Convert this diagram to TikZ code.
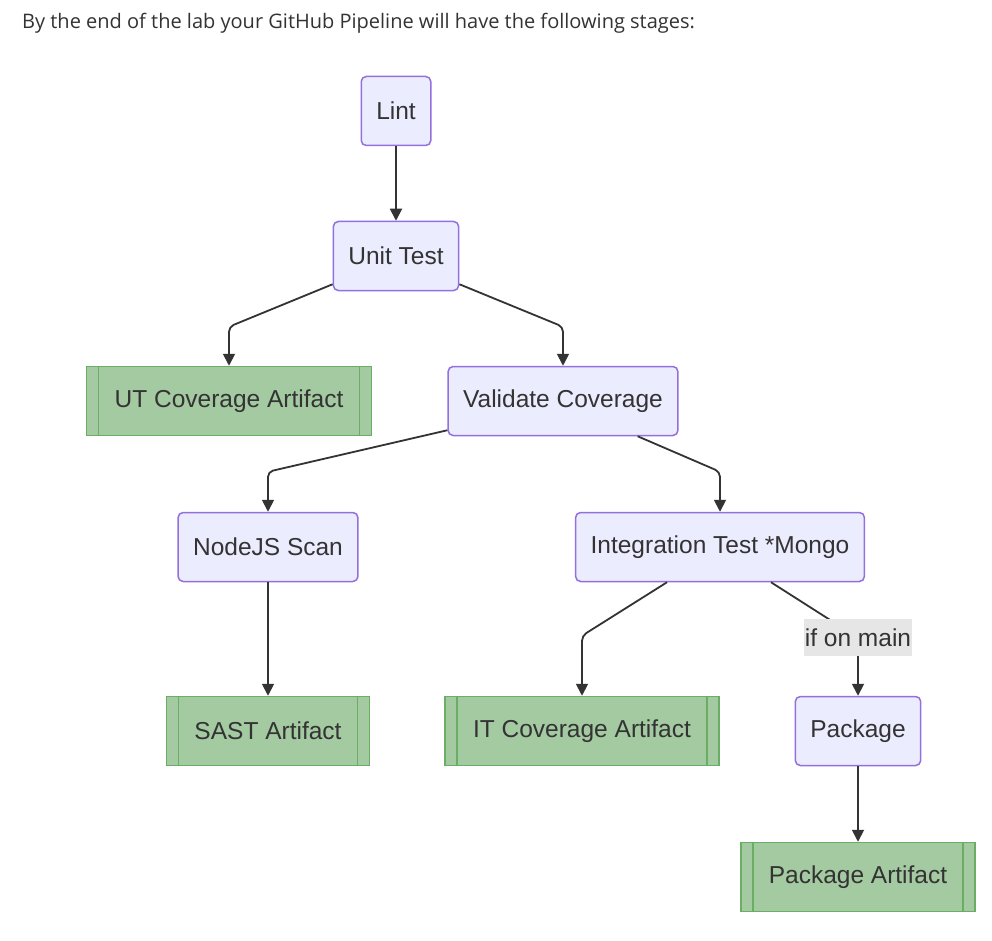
\documentclass[tikz,border=0pt]{standalone}
\usepackage{fontspec}
\setmainfont{Liberation Sans}
\newfontfamily\headfont{Open Sans}
\usetikzlibrary{arrows.meta}
\definecolor{stagefill}{HTML}{ECECFF}
\definecolor{stageline}{HTML}{9370DB}
\definecolor{artfill}{HTML}{A4CAA1}
\definecolor{artline}{HTML}{6AAE66}
\definecolor{ink}{HTML}{333333}
\definecolor{lblfill}{HTML}{E6E6E6}
\tikzset{
  stage/.style={draw=stageline, fill=stagefill, line width=1.5pt, rounded corners=5pt,
    minimum height=69pt, inner xsep=15pt, text=ink, font=\fontsize{24.5}{29}\selectfont},
  artifact/.style={draw=artline, fill=artfill, line width=1.5pt, minimum height=69pt,
    inner xsep=28pt, text=ink, font=\fontsize{24.5}{29}\selectfont,
    path picture={\draw[artline,line width=1.5pt]
      ([xshift=12pt]path picture bounding box.north west) -- ([xshift=12pt]path picture bounding box.south west)
      ([xshift=-12pt]path picture bounding box.north east) -- ([xshift=-12pt]path picture bounding box.south east);}},
  flow/.style={draw=ink, line width=1.8pt, -{Triangle[length=12pt,width=12pt]}, rounded corners=5pt},
  cond/.style={fill=lblfill, sharp corners, text=ink, font=\fontsize{24.5}{29}\selectfont,
    inner xsep=1pt, minimum height=37pt}
}
\begin{document}
\begin{tikzpicture}[x=1pt,y=-1pt]
  \fill[white] (0,0) rectangle (992,941);
  \useasboundingbox (0,0) rectangle (992,941);
  \node[anchor=west, inner sep=0pt, text=ink, font=\headfont\fontsize{20}{24}\selectfont] (title) at (22,23)
    {By the end of the lab your GitHub Pipeline will have the following stages:};

  \node[stage] (lint) at (396,111) {Lint};
  \node[stage] (ut) at (396,256) {Unit Test};
  \node[artifact] (utcov) at (229,401) {UT Coverage Artifact};
  \node[stage] (val) at (563,401) {Validate Coverage};
  \node[stage] (njs) at (268,547) {NodeJS Scan};
  \node[stage] (integ) at (720,547) {Integration Test *Mongo};
  \node[artifact] (sast) at (268,731) {SAST Artifact};
  \node[artifact] (itcov) at (582,731) {IT Coverage Artifact};
  \node[stage] (pkg) at (858,731) {Package};
  \node[artifact] (pkgart) at (858,877) {Package Artifact};

  \draw[flow] (lint) -- (ut);
  \draw[flow] ([yshift=7pt]ut.south west) -- ([yshift=39pt]utcov.north) -- (utcov.north);
  \draw[flow] ([yshift=7pt]ut.south east) -- ([yshift=39pt]val.north) -- (val.north);
  \draw[flow] ([yshift=6pt]val.south west) -- ([yshift=40pt]njs.north) -- (njs.north);
  \draw[flow] ([xshift=-41pt]val.south east) -- ([yshift=40pt]integ.north) -- (integ.north);
  \draw[flow] (njs) -- (sast);
  \draw[flow] ([xshift=-53pt]integ.south) -- ([yshift=60pt]itcov.north) -- (itcov.north);
  \draw[flow] ([xshift=51pt]integ.south) -- ([yshift=58pt]pkg.north) node[cond] (cond) {if on main} -- (pkg.north);
  \draw[flow] (pkg) -- (pkgart);
\end{tikzpicture}
\end{document}
